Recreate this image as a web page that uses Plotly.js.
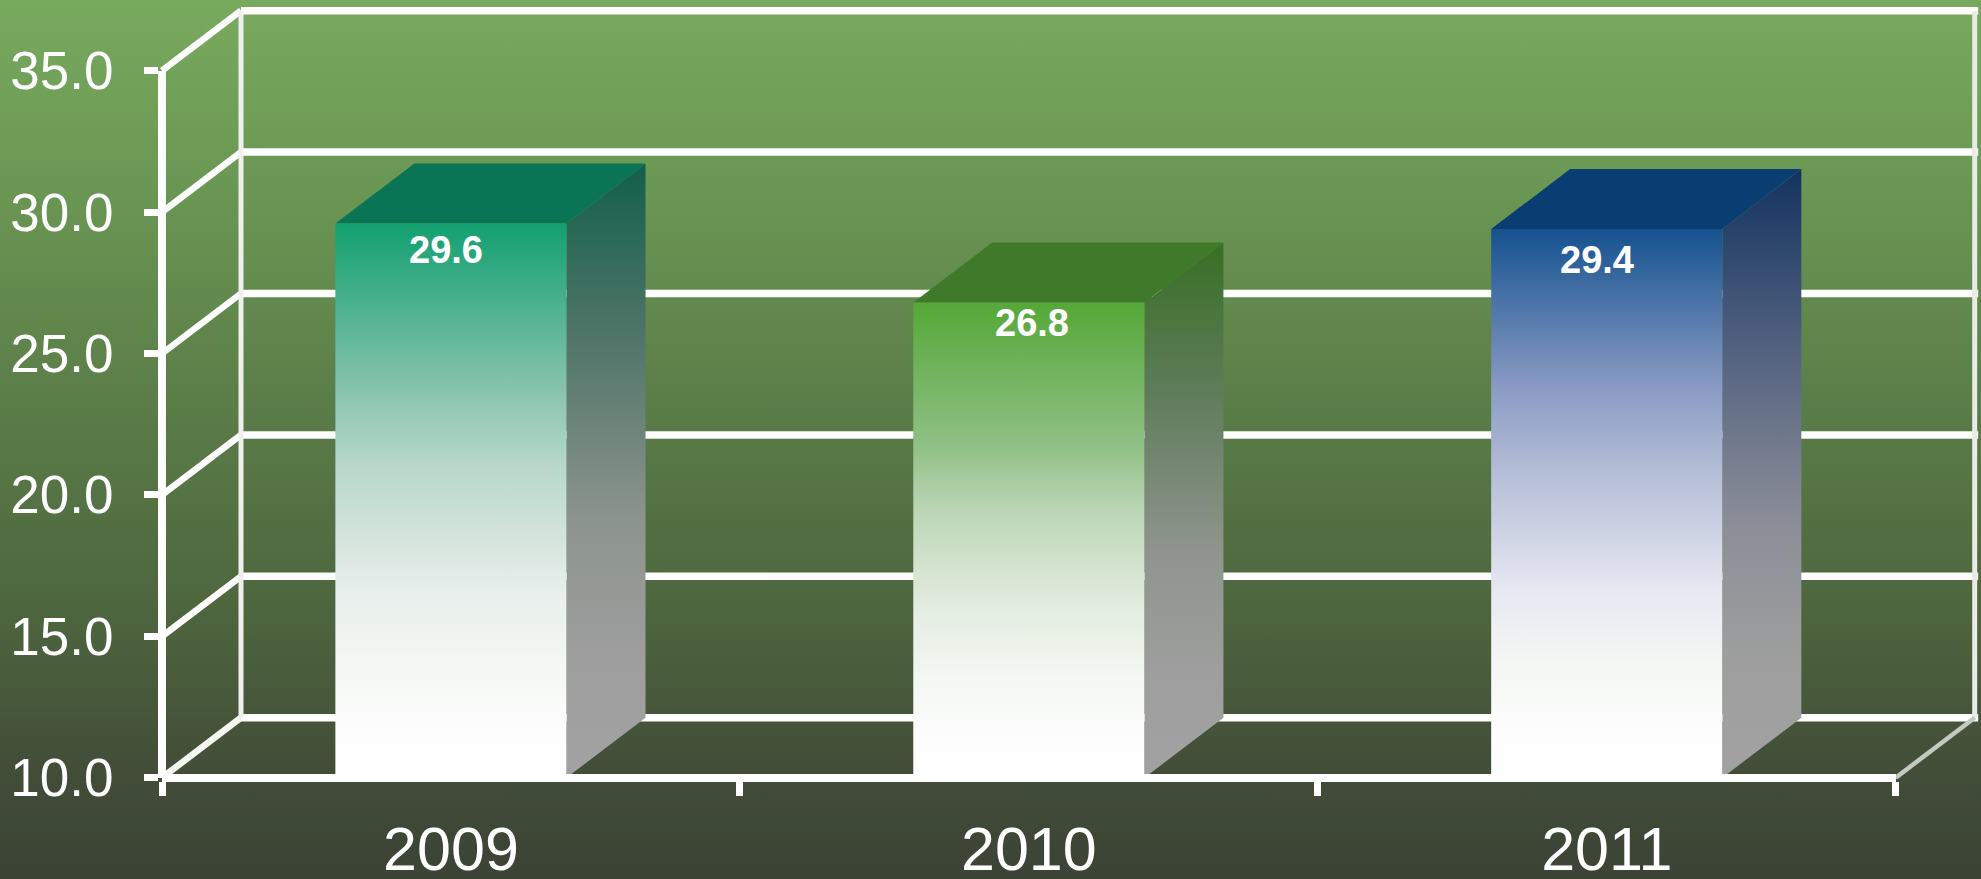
<!DOCTYPE html>
<html>
<head>
<meta charset="utf-8">
<script src="https://cdn.plot.ly/plotly-3.0.1.min.js"></script>
<style>
html,body{margin:0;padding:0;width:1981px;height:879px;overflow:hidden;
background:linear-gradient(to bottom,#78aa5e 0%,#6a9653 22%,#5c7f49 44%,#4d653e 70%,#424d38 88%,#3b4335 100%);}
#chart{width:1981px;height:879px;}
</style>
</head>
<body>
<div id="chart"></div>
<script>
const categories = ['2009', '2010', '2011'];
const values = [29.6, 26.8, 29.4];
const gridValues = [10, 15, 20, 25, 30, 35];
const frontTop = ['#12a070', '#55a838', '#15528f'];
const frontA = ['#84c2ac', '#8dbf82', '#8a9bc4'];
const frontB = ['#b8d8cb', '#bcd6b6', '#b4bdd6'];
const frontC = ['#d7e5df', '#d8e6d4', '#d4d8e7'];
const frontD = ['#e8efec', '#e6efe4', '#e8e9f2'];
const topColor = ['#0a7555', '#3e7a2a', '#0a3e72'];
const sideTop = ['#12604a', '#386f24', '#13335f'];
const sideA = ['#4f7568', '#5f7c5a', '#4f5f7e'];
const sideB = ['#8c948f', '#8f958e', '#8b8e98'];

const W = 1981, H = 879;
const axLeft = 162, axRight = 1895.7, axTop = 70.7, axBottom = 777.7;
const slotPx = (axRight - axLeft) / 3, unitPx = (axBottom - axTop) / 25;
const depthX = 79 / slotPx, depthY = 60 / unitPx, gridOver = 3.5 / slotPx;
const barWidth = 0.4;
const labelShift = [[-5, -27], [3, -20], [-10, -31]];
const white = '#ffffff';

const traces = [];
const lineTrace = (x, y, width, color) => traces.push({
  type: 'scatter', mode: 'lines', x, y, hoverinfo: 'skip', showlegend: false,
  line: {color, width, simplify: false}
});
const polyTrace = (x, y, fill) => traces.push(Object.assign({
  type: 'scatter', mode: 'none', x, y, fill: 'toself', hoverinfo: 'skip', showlegend: false
}, fill));
const grad = (stops) => ({fillgradient: {type: 'vertical', colorscale: stops}, fillcolor: 'rgba(0,0,0,0)'});

gridValues.forEach(v => {
  lineTrace([0, depthX], [v, v + depthY], 6.5, v === 10 ? '#f4f6f2' : white);
  lineTrace([depthX, 3 + depthX + gridOver], [v + depthY, v + depthY], 7.5, white);
});
lineTrace([depthX, depthX], [10 + depthY, 35 + depthY], 5, '#eef0ec');
lineTrace([3 + depthX, 3 + depthX], [10 + depthY, 35 + depthY], 5, '#e8ebe6');
lineTrace([3, 3 + depthX], [10, 10 + depthY], 4.5, '#c4cac0');

values.forEach((v, i) => {
  const x0 = i + 0.5 - barWidth / 2, x1 = i + 0.5 + barWidth / 2;
  polyTrace([x1, x1 + depthX, x1 + depthX, x1, x1], [10, 10 + depthY, v + depthY, v, 10],
    grad([[0, '#a2a2a2'], [0.2, '#9d9e9d'], [0.42, sideB[i]], [0.72, sideA[i]], [1, sideTop[i]]]));
  polyTrace([x0, x1, x1 + depthX, x0 + depthX, x0], [v, v, v + depthY, v + depthY, v],
    {fillcolor: topColor[i]});
  polyTrace([x0, x1, x1, x0, x0], [10, 10, v, v, 10],
    grad([[0, white], [0.11, '#fbfcfb'], [0.21, '#f4f7f3'], [0.335, frontD[i]], [0.42, frontC[i]],
          [0.56, frontB[i]], [0.71, frontA[i]], [1, frontTop[i]]]));
});
// one more, empty trace places the visible axes (x2/y2) above the marks
traces.push({type: 'scatter', mode: 'none', x: [0], y: [10], xaxis: 'x2', yaxis: 'y2', hoverinfo: 'skip', showlegend: false});

const layout = {
  width: W, height: H, showlegend: false,
  paper_bgcolor: 'rgba(0,0,0,0)', plot_bgcolor: 'rgba(0,0,0,0)',
  margin: {l: 0, r: 0, t: 0, b: 0, pad: 0},
  font: {family: '"Liberation Sans", Arial, sans-serif', color: white},
  xaxis: {domain: [0, 1], range: [-axLeft / slotPx, (W - axLeft) / slotPx], visible: false, fixedrange: true},
  yaxis: {domain: [0, 1], range: [10 - (H - axBottom) / unitPx, 35 + axTop / unitPx], visible: false, fixedrange: true},
  xaxis2: {
    domain: [axLeft / W, axRight / W],
    range: [0, 3], anchor: 'free', position: (H - axBottom) / H,
    showgrid: false, zeroline: false, showline: true, linecolor: white, linewidth: 8,
    tickmode: 'array', tickvals: [0.5, 1.5, 2.5], ticktext: categories, ticks: '', ticklen: 0,
    ticklabelstandoff: 15, tickfont: {size: 61, color: white},
    minor: {tickmode: 'array', tickvals: [0, 1, 2, 3], ticks: 'outside', ticklen: 14, tickwidth: 7, tickcolor: white, showgrid: false}
  },
  yaxis2: {
    domain: [(H - axBottom) / H, (H - axTop) / H],
    range: [10, 35], anchor: 'free', position: axLeft / W,
    showgrid: false, zeroline: false, showline: true, linecolor: white, linewidth: 8,
    tickmode: 'array', tickvals: gridValues, tickformat: '.1f',
    ticks: 'outside', ticklen: 14, tickwidth: 7, tickcolor: white,
    ticklabelstandoff: 20, tickfont: {size: 53, color: white}
  },
  annotations: values.map((v, i) => ({
    x: i + 0.5, y: v, xref: 'x', yref: 'y', text: '<b>' + v.toFixed(1) + '</b>', showarrow: false,
    xanchor: 'center', yanchor: 'middle', xshift: labelShift[i][0], yshift: labelShift[i][1],
    font: {size: 38, color: white, family: '"Liberation Sans", Arial, sans-serif'}
  }))
};
Plotly.newPlot('chart', traces, layout, {displayModeBar: false, staticPlot: true});
</script>
</body>
</html>
